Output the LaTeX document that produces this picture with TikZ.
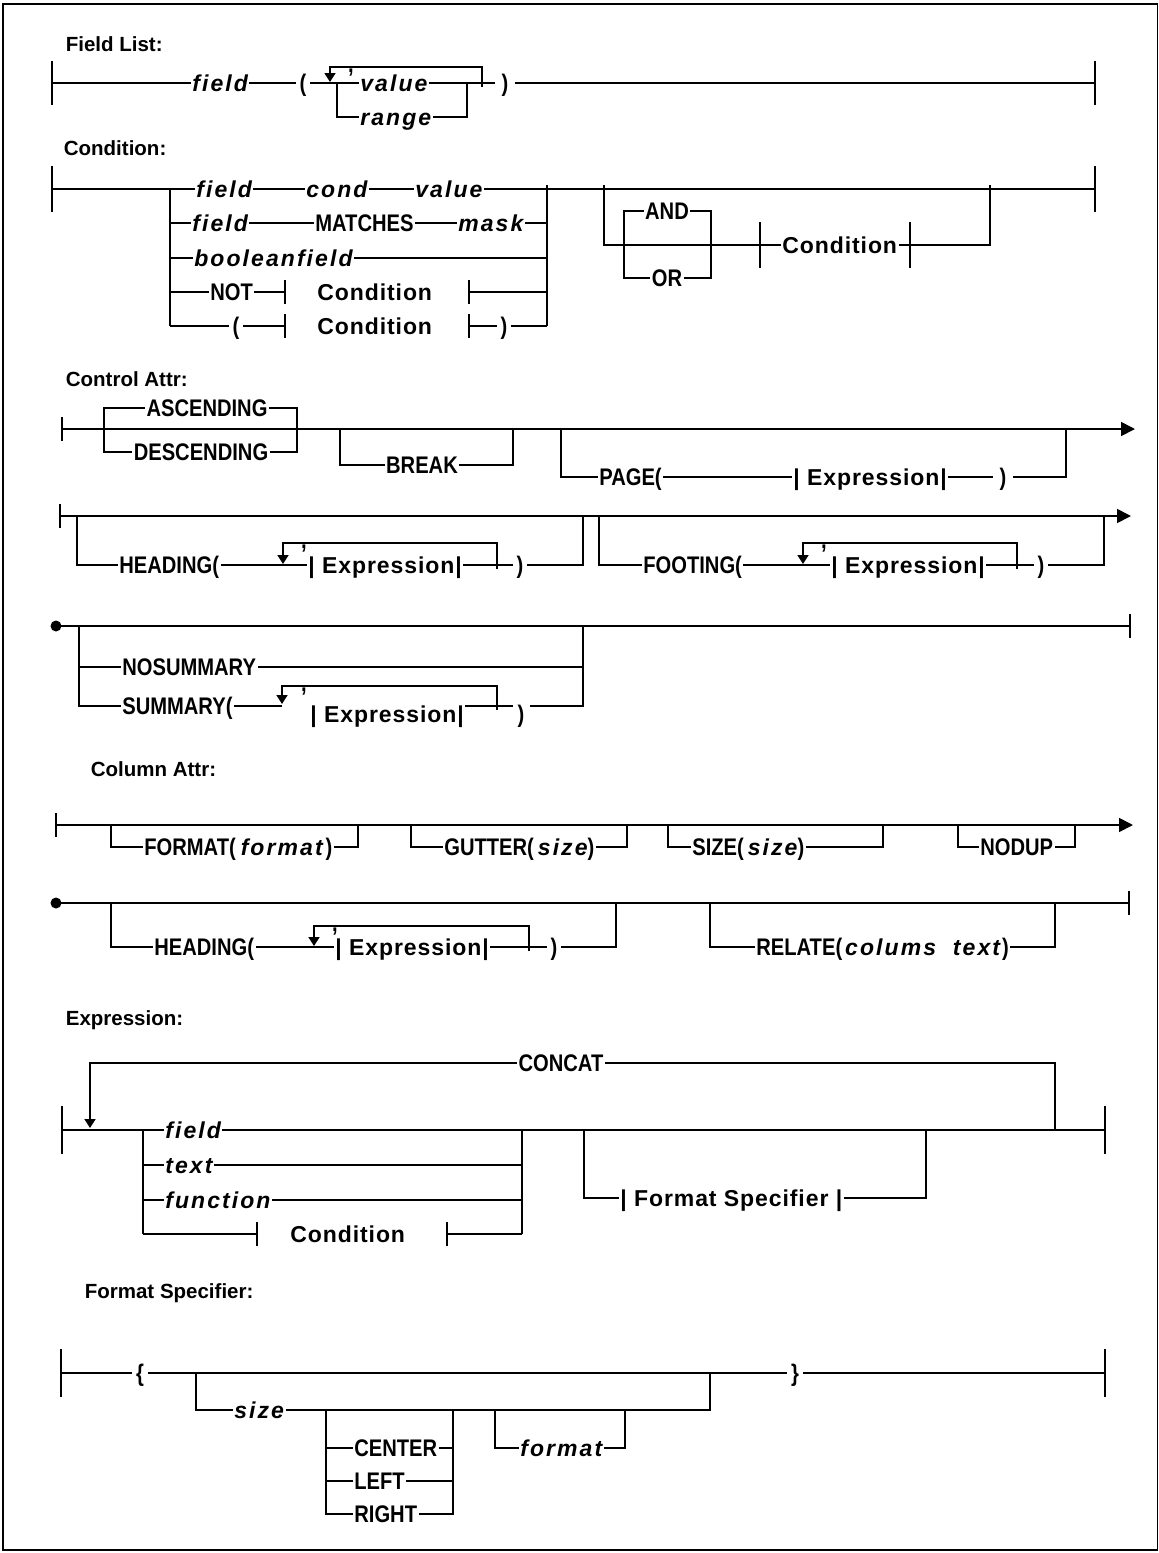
\documentclass[tikz,border=0pt]{standalone}
\usepackage{fontspec}
\setmainfont{Liberation Sans}
\newfontfamily\kwfam{Liberation Sans}[FakeStretch=0.84]
\newfontfamily\varfam{Liberation Sans}[LetterSpace=9]
\newfontfamily\ntfam{Liberation Sans}[LetterSpace=4]
\usetikzlibrary{arrows.meta}
\newcommand\kwfont{\kwfam\bfseries\fontsize{24}{27}\selectfont}
\newcommand\varfont{\varfam\bfseries\itshape\fontsize{23}{26}\selectfont}
\newcommand\ntfont{\ntfam\bfseries\fontsize{23}{26}\selectfont}
\newcommand\ttlfont{\bfseries\fontsize{20.5}{24}\selectfont}
\begin{document}
\begin{tikzpicture}[x=1pt,y=-1pt,line width=1.7pt,
  txt/.style={anchor=base west,fill=white,inner xsep=1.5pt,inner ysep=0.5pt,yshift=-8pt},
  ctxt/.style={txt,anchor=base},
  kw/.style={txt,font=\kwfont},
  ckw/.style={ctxt,font=\kwfont},
  var/.style={txt,font=\varfont},
  nt/.style={txt,font=\ntfont},
  paren/.style={ctxt,font=\kwfont,inner xsep=4pt},
  commanode/.style={anchor=base,fill=white,inner xsep=3.5pt,inner ysep=0.5pt,yshift=-5pt,font=\kwfont},
  ttl/.style={anchor=west,inner sep=0pt,font=\ttlfont},
  lp/.style={-{Triangle[length=9pt,width=11pt]}},
  ea/.style={-{Triangle[length=14pt,width=14pt]}},
  dot/.style={circle,fill=black,inner sep=0pt,minimum size=11pt},
]
\useasboundingbox (0,0) rectangle (1159,1553);
\draw[line width=1.4pt] (3,4) rectangle (1157.5,1550);

% ---------------- Field List ----------------
\node[ttl] (t1) at (65,44) {Field List:};
\draw (52,61) -- (52,105);
\draw (52,83) -- (1095,83);
\draw (1095,61) -- (1095,105);
\draw[lp] (482,87) -- (482,67) -- (330,67) -- (330,82);
\draw (337,83) -- (337,117) -- (467,117) -- (467,83);
\node[var] (fl-field) at (190,83) {field};
\node[paren] (fl-lp) at (303,83) {(};
\node[commanode] (fl-cm) at (351,67) {,};
\node[var] (fl-value) at (358,83) {value};
\node[var] (fl-range) at (358,117) {range};
\node[paren,inner xsep=7pt] (fl-rp) at (505,83) {)};

% ---------------- Condition ----------------
\node[ttl] (t2) at (63,148) {Condition:};
\draw (52,166) -- (52,212);
\draw (52,189) -- (1095,189);
\draw (1095,166) -- (1095,212);
\draw (170,189) -- (170,326);
\draw (547,185) -- (547,326);
\draw (170,223) -- (547,223);
\draw (170,258) -- (547,258);
\draw (170,292) -- (285,292) (469,292) -- (547,292);
\draw (170,326) -- (285,326) (469,326) -- (547,326);
\draw (285,280) -- (285,304) (469,280) -- (469,304);
\draw (285,314) -- (285,338) (469,314) -- (469,338);
\draw (604,185) -- (604,245) -- (990,245) -- (990,185);
\draw (624,211) rectangle (711,278);
\draw (760,222) -- (760,268) (910,222) -- (910,268);
\node[var] (c-f1) at (194,189) {field};
\node[var] (c-cond) at (304,189) {cond};
\node[var] (c-val) at (413,189) {value};
\node[var] (c-f2) at (190,223) {field};
\node[kw] (c-match) at (313,223) {MATCHES};
\node[var] (c-mask) at (456,223) {mask};
\node[var] (c-bool) at (192,258) {booleanfield};
\node[kw] (c-not) at (208,292) {NOT};
\node[nt] (c-cn1) at (315,292) {Condition};
\node[paren] (c-lp) at (236,326) {(};
\node[nt] (c-cn2) at (315,326) {Condition};
\node[paren] (c-rp) at (504,326) {)};
\node[ckw] (c-and) at (667,211) {AND};
\node[ckw] (c-or) at (667,278) {OR};
\node[nt] (c-cn3) at (780,245) {Condition};

% ---------------- Control Attr ----------------
\node[ttl] (t3) at (65,379) {Control Attr:};
\draw (62,417) -- (62,441);
\draw[ea] (62,429) -- (1135,429);
\draw (104,408) rectangle (297,452);
\draw (340,429) -- (340,465) -- (513,465) -- (513,429);
\draw (561,429) -- (561,477) -- (1066,477) -- (1066,429);
\node[ckw] (a-asc) at (207,408) {ASCENDING};
\node[ckw] (a-desc) at (201,452) {DESCENDING};
\node[ckw] (a-brk) at (422,465) {BREAK};
\node[kw] (a-page) at (597,477) {PAGE(\hspace{6pt}};
\node[nt] (a-ex1) at (791,477) {| Expression|\hspace{4pt}};
\node[paren,inner xsep=7pt] (a-rp1) at (1003,477) {)};

\draw (60,504) -- (60,528);
\draw[ea] (60,516) -- (1131,516);
\draw (77,516) -- (77,565) -- (583,565) -- (583,516);
\draw[lp] (497,569) -- (497,543) -- (283,543) -- (283,564);
\draw (599,516) -- (599,565) -- (1104,565) -- (1104,516);
\draw[lp] (1017,569) -- (1017,543) -- (803,543) -- (803,564);
\node[kw] (a-head) at (117,565) {HEADING(\hspace{6pt}};
\node[commanode] (a-cm1) at (304,543) {,};
\node[nt] (a-ex2) at (306,565) {| Expression|\hspace{4pt}};
\node[paren] (a-rp2) at (520,565) {)};
\node[kw] (a-foot) at (641,565) {FOOTING(\hspace{6pt}};
\node[commanode] (a-cm2) at (824,543) {,};
\node[nt] (a-ex3) at (829,565) {| Expression|\hspace{4pt}};
\node[paren] (a-rp3) at (1041,565) {)};

\node[dot] (a-dot) at (56,626) {};
\draw (56,626) -- (1130,626);
\draw (1130,614) -- (1130,638);
\draw (79,626) -- (79,706) -- (282,706);
\draw (79,667) -- (583,667);
\draw (583,626) -- (583,706) -- (530,706);
\draw (463,706) -- (513,706);
\draw[lp] (497,710) -- (497,686) -- (282,686) -- (282,704);
\node[kw] (a-nos) at (120,667) {NOSUMMARY};
\node[kw] (a-sum) at (120,706) {SUMMARY(\hspace{6pt}};
\node[commanode] (a-cm3) at (304,686) {,};
\node[nt,yshift=-8pt] (a-ex4) at (308,706) {| Expression|};
\node[paren,yshift=-8pt] (a-rp4) at (521,706) {)};

% ---------------- Column Attr ----------------
\node[ttl] (t4) at (90,769) {Column Attr:};
\draw (56,813) -- (56,837);
\draw[ea] (56,825) -- (1133,825);
\draw (111,825) -- (111,847) -- (358,847) -- (358,825);
\draw (411,825) -- (411,847) -- (627,847) -- (627,825);
\draw (668,825) -- (668,847) -- (883,847) -- (883,825);
\draw (958,825) -- (958,847) -- (1075,847) -- (1075,825);
\node[kw] (b-fmt) at (142,847) {FORMAT(\hspace{5pt}{\varfont format}\hspace{3pt})\hspace{6pt}};
\node[kw] (b-gut) at (442,847) {GUTTER(\hspace{4pt}{\varfont size})\hspace{6pt}};
\node[kw] (b-size) at (690,847) {SIZE(\hspace{4pt}{\varfont size})\hspace{6pt}};
\node[kw] (b-nodup) at (978,847) {NODUP};

\node[dot] (b-dot) at (56,903) {};
\draw (56,903) -- (1129,903);
\draw (1129,891) -- (1129,915);
\draw (111,903) -- (111,947) -- (616,947) -- (616,903);
\draw[lp] (529,951) -- (529,926) -- (314,926) -- (314,946);
\draw (710,903) -- (710,947) -- (1055,947) -- (1055,903);
\node[kw] (b-head) at (152,947) {HEADING(\hspace{6pt}};
\node[commanode] (b-cm) at (335,926) {,};
\node[nt] (b-ex) at (333,947) {| Expression|\hspace{4pt}};
\node[paren] (b-rp) at (554,947) {)};
\node[kw] (b-rel) at (754,947) {RELATE(\hspace{3pt}{\varfont colums\ \ text}\hspace{2pt})\hspace{6pt}};

% ---------------- Expression ----------------
\node[ttl] (t5) at (65,1020) {Expression:};
\draw (62,1106) -- (62,1154);
\draw (62,1130) -- (1105,1130);
\draw (1105,1106) -- (1105,1154);
\draw[lp] (1055,1130) -- (1055,1063) -- (90,1063) -- (90,1128);
\draw (143,1130) -- (143,1234);
\draw (522,1130) -- (522,1234);
\draw (143,1165) -- (522,1165);
\draw (143,1200) -- (522,1200);
\draw (143,1234) -- (257,1234) (447,1234) -- (522,1234);
\draw (257,1222) -- (257,1246) (447,1222) -- (447,1246);
\draw (584,1130) -- (584,1198) -- (926,1198) -- (926,1130);
\node[ckw] (e-cat) at (561,1063) {CONCAT};
\node[var] (e-field) at (163,1130) {field};
\node[var] (e-text) at (163,1165) {text};
\node[var] (e-func) at (163,1200) {function};
\node[nt] (e-cond) at (288,1234) {Condition};
\node[nt] (e-fs) at (618,1198) {| Format Specifier |\hspace{2pt}};

% ---------------- Format Specifier ----------------
\node[ttl] (t6) at (84,1293) {Format Specifier:};
\draw (61,1349) -- (61,1397);
\draw (61,1373) -- (1105,1373);
\draw (1105,1349) -- (1105,1397);
\draw (196,1373) -- (196,1410) -- (710,1410) -- (710,1373);
\draw (326,1410) -- (326,1514) -- (453,1514) -- (453,1410);
\draw (326,1448) -- (453,1448);
\draw (326,1481) -- (453,1481);
\draw (495,1410) -- (495,1448) -- (625,1448) -- (625,1410);
\node[paren] (f-lb) at (140,1373) {\{};
\node[paren] (f-rb) at (795,1373) {\}};
\node[var] (f-size) at (232,1410) {size};
\node[kw] (f-cen) at (352,1448) {CENTER};
\node[kw] (f-left) at (352,1481) {LEFT};
\node[kw] (f-right) at (352,1514) {RIGHT};
\node[var] (f-fmt) at (518,1448) {format\hspace{4pt}};
\end{tikzpicture}
\end{document}
